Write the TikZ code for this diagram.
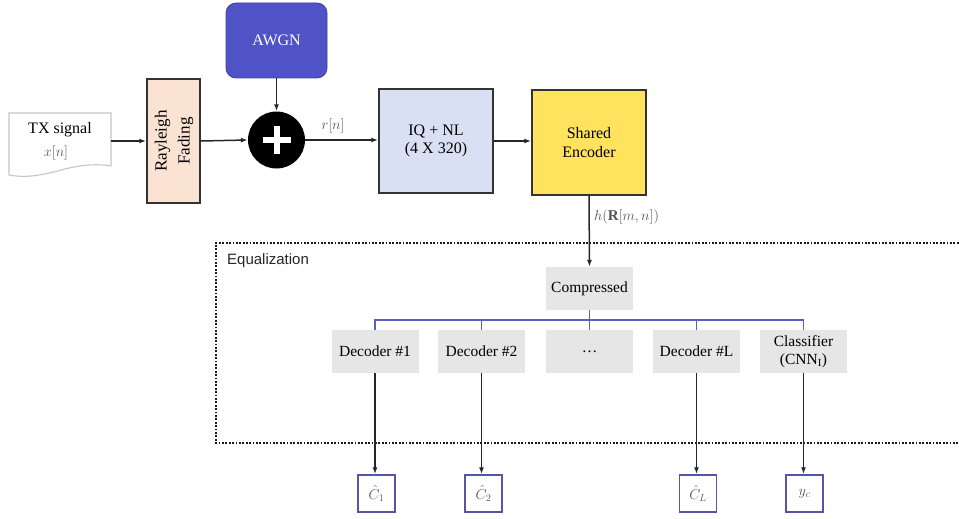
\documentclass[tikz,border=0pt]{standalone}
\usepackage{fontspec}
\usepackage{graphicx}
\setmainfont{Liberation Serif}
\newfontfamily\eqfont{Liberation Sans}
\usetikzlibrary{arrows.meta}
\definecolor{awgn}{HTML}{5053C6}
\definecolor{peach}{HTML}{FBE3D3}
\definecolor{lav}{HTML}{DAE0F3}
\definecolor{yel}{HTML}{FFE25E}
\definecolor{gbox}{HTML}{E6E6E6}
\definecolor{bus}{HTML}{5B5FC0}
\definecolor{outb}{HTML}{5557A6}
\definecolor{lbl}{HTML}{555555}
\begin{document}
\begin{tikzpicture}[x=1pt,y=-1pt,
  arr/.style={-{Latex[length=7pt,width=5pt]}, line width=1.5pt, black!85},
  blk/.style={draw=black!80, line width=1.5pt, inner sep=0pt, align=center, font=\fontsize{16}{18.5}\selectfont},
  gb/.style={fill=gbox, minimum width=87, minimum height=43, inner sep=0pt, align=center, font=\fontsize{15.5}{17}\selectfont},
  ob/.style={draw=outb, line width=1.5pt, fill=white, minimum width=37, minimum height=37, inner sep=0pt, text=lbl, font=\fontsize{14}{16}\selectfont},
  mlbl/.style={text=lbl, font=\fontsize{15}{17}\selectfont, inner sep=0pt},
  busline/.style={draw=bus, line width=1.5pt},
  eqbox/.style={line width=2pt, dash pattern=on 1.8pt off 1.6pt, black!90}]
\useasboundingbox (0,0) rectangle (959,519);

% TX signal document shape
\draw[gray!45, line width=1.1pt, fill=white] (9,113) -- (111,113) -- (111,166)
  .. controls (100,164) and (85,164) .. (65,169)
  .. controls (40,176) and (25,178) .. (9,175) -- cycle;
\node[minimum width=102, minimum height=56, inner sep=0pt] (tx) at (60,141) {};
\node[font=\fontsize{16}{18}\selectfont, inner sep=0pt] (txt) at (60,130) {TX signal};
\node[mlbl] (xn) at (56,153) {$x[n]$};

% Rayleigh fading
\node[blk, fill=peach, minimum width=53, minimum height=124] (ray) at (173.5,141)
  {\rotatebox{90}{\fontsize{17}{23}\selectfont\begin{tabular}{@{}c@{}}Rayleigh\\Fading\end{tabular}}};

% AWGN
\node[fill=awgn, draw=awgn!80!black, line width=0.8pt, rounded corners=10pt, minimum width=101, minimum height=75,
  inner sep=0pt, text=white, font=\fontsize{16}{18}\selectfont] (awgn) at (276.5,40.5) {AWGN};

% adder
\node[circle, fill=black, minimum size=57, inner sep=0pt] (plus) at (276.5,140) {};
\draw[white, line width=6pt] ([xshift=-14pt]plus.center) -- ([xshift=14pt]plus.center);
\draw[white, line width=6pt] ([yshift=-14pt]plus.center) -- ([yshift=14pt]plus.center);

% IQ + NL and encoder
\node[blk, fill=lav, minimum width=114, minimum height=104] (iq) at (436,141) {IQ + NL\\(4 X 320)};
\node[blk, fill=yel, minimum width=114, minimum height=105] (enc) at (589,142.5) {Shared\\Encoder};

% labels
\node[mlbl] (rn) at (333,126) {$r[n]$};
\node[mlbl, anchor=west] (hr) at (594,217) {$h(\mathbf{R}[m,n])$};

% top connectors
\draw[arr] (tx.east) -- (ray.west);
\draw[arr] (ray.east) -- (plus.west);
\draw[arr] (awgn.south) -- (plus.north);
\draw[arr] (plus.east) -- (iq.west |- plus.east);
\draw[arr] (iq.east) -- (enc.west |- iq.east);

% equalization box
\draw[eqbox] (962,243) -- (216,243) -- (216,443) -- (962,443);
\node[anchor=west, inner sep=0pt, font=\eqfont\fontsize{15}{17}\selectfont, text=black!85] (eql) at (227,261) {Equalization};

% compressed and decoders
\node[gb] (comp) at (589.5,288.5) {Compressed};
\node[gb] (d1) at (375,351.5) {Decoder \#1};
\node[gb] (d2) at (481.5,351.5) {Decoder \#2};
\node[gb] (dd) at (589.5,351.5) {\dots};
\node[gb] (dL) at (696.5,351.5) {Decoder \#L};
\node[gb, font=\fontsize{15.5}{18}\selectfont] (cls) at (803.5,351.5) {Classifier\\(CNN\textsubscript{I})};

\draw[arr] (enc.south) -- (comp.north);

% bus
\draw[busline] (d1.north) -- ++(0,-10) -| (cls.north);
\draw[busline] (d2.north) -- ++(0,-10);
\draw[busline] (dd.north) -- (comp.south);
\draw[busline] (dL.north) -- ++(0,-10);

% outputs
\node[ob] (c1) at (376.5,493.5) {$\hat{C}_1$};
\node[ob] (c2) at (483.5,493.5) {$\hat{C}_2$};
\node[ob] (cL) at (698,493.5) {$\hat{C}_L$};
\node[ob] (yc) at (804.5,493.5) {$y_c$};

\draw[arr] (d1.south) -- (d1.south |- c1.north);
\draw[arr] (d2.south) -- (d2.south |- c2.north);
\draw[arr] (dL.south) -- (dL.south |- cL.north);
\draw[arr] (cls.south) -- (cls.south |- yc.north);
\end{tikzpicture}
\end{document}
